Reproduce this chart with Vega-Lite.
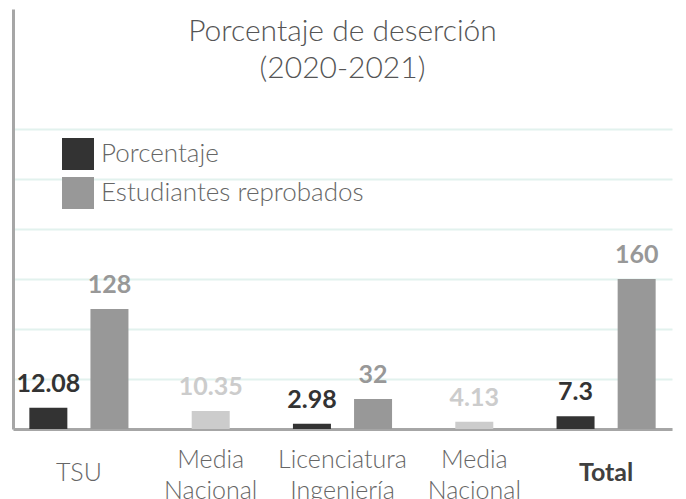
{
  "$schema": "https://vega.github.io/schema/vega-lite/v6.json",
  "width": 659,
  "height": 420,
  "autosize": {"type": "none"},
  "padding": {"left": 13, "top": 9, "right": 14, "bottom": 70},
  "background": "white",
  "config": {"view": {"stroke": null}, "font": "Lato"},
  "title": {
    "text": ["Porcentaje de deserción", "(2020-2021)"],
    "anchor": "middle",
    "frame": "group",
    "font": "Lato",
    "fontSize": 30,
    "fontWeight": 300,
    "color": "#555555",
    "lineHeight": 37,
    "offset": -75
  },
  "data": {
    "values": [
      {"cat": "TSU", "serie": "Porcentaje", "valor": 12.08},
      {"cat": "TSU", "serie": "Estudiantes reprobados", "valor": 128},
      {"cat": "Media Nacional TSU", "serie": "Media Nacional", "valor": 10.35},
      {"cat": "Licenciatura Ingeniería", "serie": "Porcentaje", "valor": 2.98},
      {"cat": "Licenciatura Ingeniería", "serie": "Estudiantes reprobados", "valor": 32},
      {"cat": "Media Nacional Licenciatura", "serie": "Media Nacional", "valor": 4.13},
      {"cat": "Total", "serie": "Porcentaje", "valor": 7.3},
      {"cat": "Total", "serie": "Estudiantes reprobados", "valor": 160}
    ]
  },
  "encoding": {
    "x": {
      "field": "cat",
      "type": "nominal",
      "sort": ["TSU", "Media Nacional TSU", "Licenciatura Ingeniería", "Media Nacional Licenciatura", "Total"],
      "scale": {"paddingInner": 0, "paddingOuter": 0},
      "axis": {
        "title": null,
        "domain": true,
        "domainColor": "#a6a6a6",
        "domainWidth": 3,
        "ticks": false,
        "labelAngle": 0,
        "labelPadding": 43,
        "labelBaseline": {"condition": {"test": "datum.value == 'TSU' || datum.value == 'Total'", "value": "middle"}, "value": "bottom"},
        "labelFont": "Lato",
        "labelFontSize": 25,
        "labelLineHeight": 31,
        "labelFontWeight": {"condition": {"test": "datum.value == 'Total'", "value": "bold"}, "value": 300},
        "labelColor": {"condition": {"test": "datum.value == 'Total'", "value": "#404040"}, "value": "#666666"},
        "labelOverlap": false,
        "labelBound": false,
        "labelLimit": 0,
        "labelExpr": "datum.value == 'TSU' ? 'TSU' : indexof(datum.value, 'Media') == 0 ? ['Media', 'Nacional'] : datum.value == 'Total' ? 'Total' : ['Licenciatura', 'Ingeniería']"
      }
    },
    "xOffset": {
      "field": "serie",
      "type": "nominal",
      "scale": {"domain": ["Porcentaje", "Media Nacional", "Estudiantes reprobados"], "paddingInner": 0, "paddingOuter": 0.657}
    },
    "color": {
      "field": "serie",
      "type": "nominal",
      "scale": {"domain": ["Porcentaje", "Estudiantes reprobados", "Media Nacional"], "range": ["#333333", "#989898", "#cccccc"]},
      "legend": {
        "values": ["Porcentaje", "Estudiantes reprobados"],
        "title": null,
        "orient": "none",
        "legendX": 49,
        "legendY": 129,
        "padding": 0,
        "symbolType": "square",
        "symbolSize": 1024,
        "symbolStrokeWidth": 0,
        "symbolOpacity": 1,
        "labelFont": "Lato",
        "labelFontSize": 26,
        "labelFontWeight": 300,
        "labelColor": "#666666",
        "labelOffset": 7,
        "rowPadding": 7,
        "labelLimit": 0
      }
    }
  },
  "layer": [
    {
      "transform": [{"filter": "datum.serie == 'Estudiantes reprobados'"}],
      "encoding": {
        "y": {
          "field": "valor",
          "type": "quantitative",
          "scale": {"domain": [0, 448], "nice": false, "zero": true},
          "axis": {
            "title": null,
            "values": [0, 53.333, 106.667, 160, 213.333, 266.667, 320],
            "labels": false,
            "ticks": false,
            "domain": true,
            "domainColor": "#a6a6a6",
            "domainWidth": 3,
            "grid": true,
            "gridColor": "#e2f2ee",
            "gridWidth": 2
          }
        }
      },
      "layer": [
        {"mark": {"type": "bar", "width": 38}},
        {
          "mark": {"type": "text", "baseline": "alphabetic", "dy": -16, "font": "Lato", "fontSize": 25, "fontWeight": "bold"},
          "encoding": {"text": {"field": "valor", "type": "quantitative"}}
        }
      ]
    },
    {
      "transform": [{"filter": "datum.serie != 'Estudiantes reprobados'"}],
      "encoding": {
        "y": {
          "field": "valor",
          "type": "quantitative",
          "scale": {"domain": [0, 240], "nice": false, "zero": true},
          "axis": null
        }
      },
      "layer": [
        {"mark": {"type": "bar", "width": 38}},
        {
          "mark": {"type": "text", "baseline": "alphabetic", "dy": -16, "font": "Lato", "fontSize": 25, "fontWeight": "bold"},
          "encoding": {"text": {"field": "valor", "type": "quantitative"}}
        }
      ]
    }
  ],
  "resolve": {"scale": {"y": "independent"}}
}
